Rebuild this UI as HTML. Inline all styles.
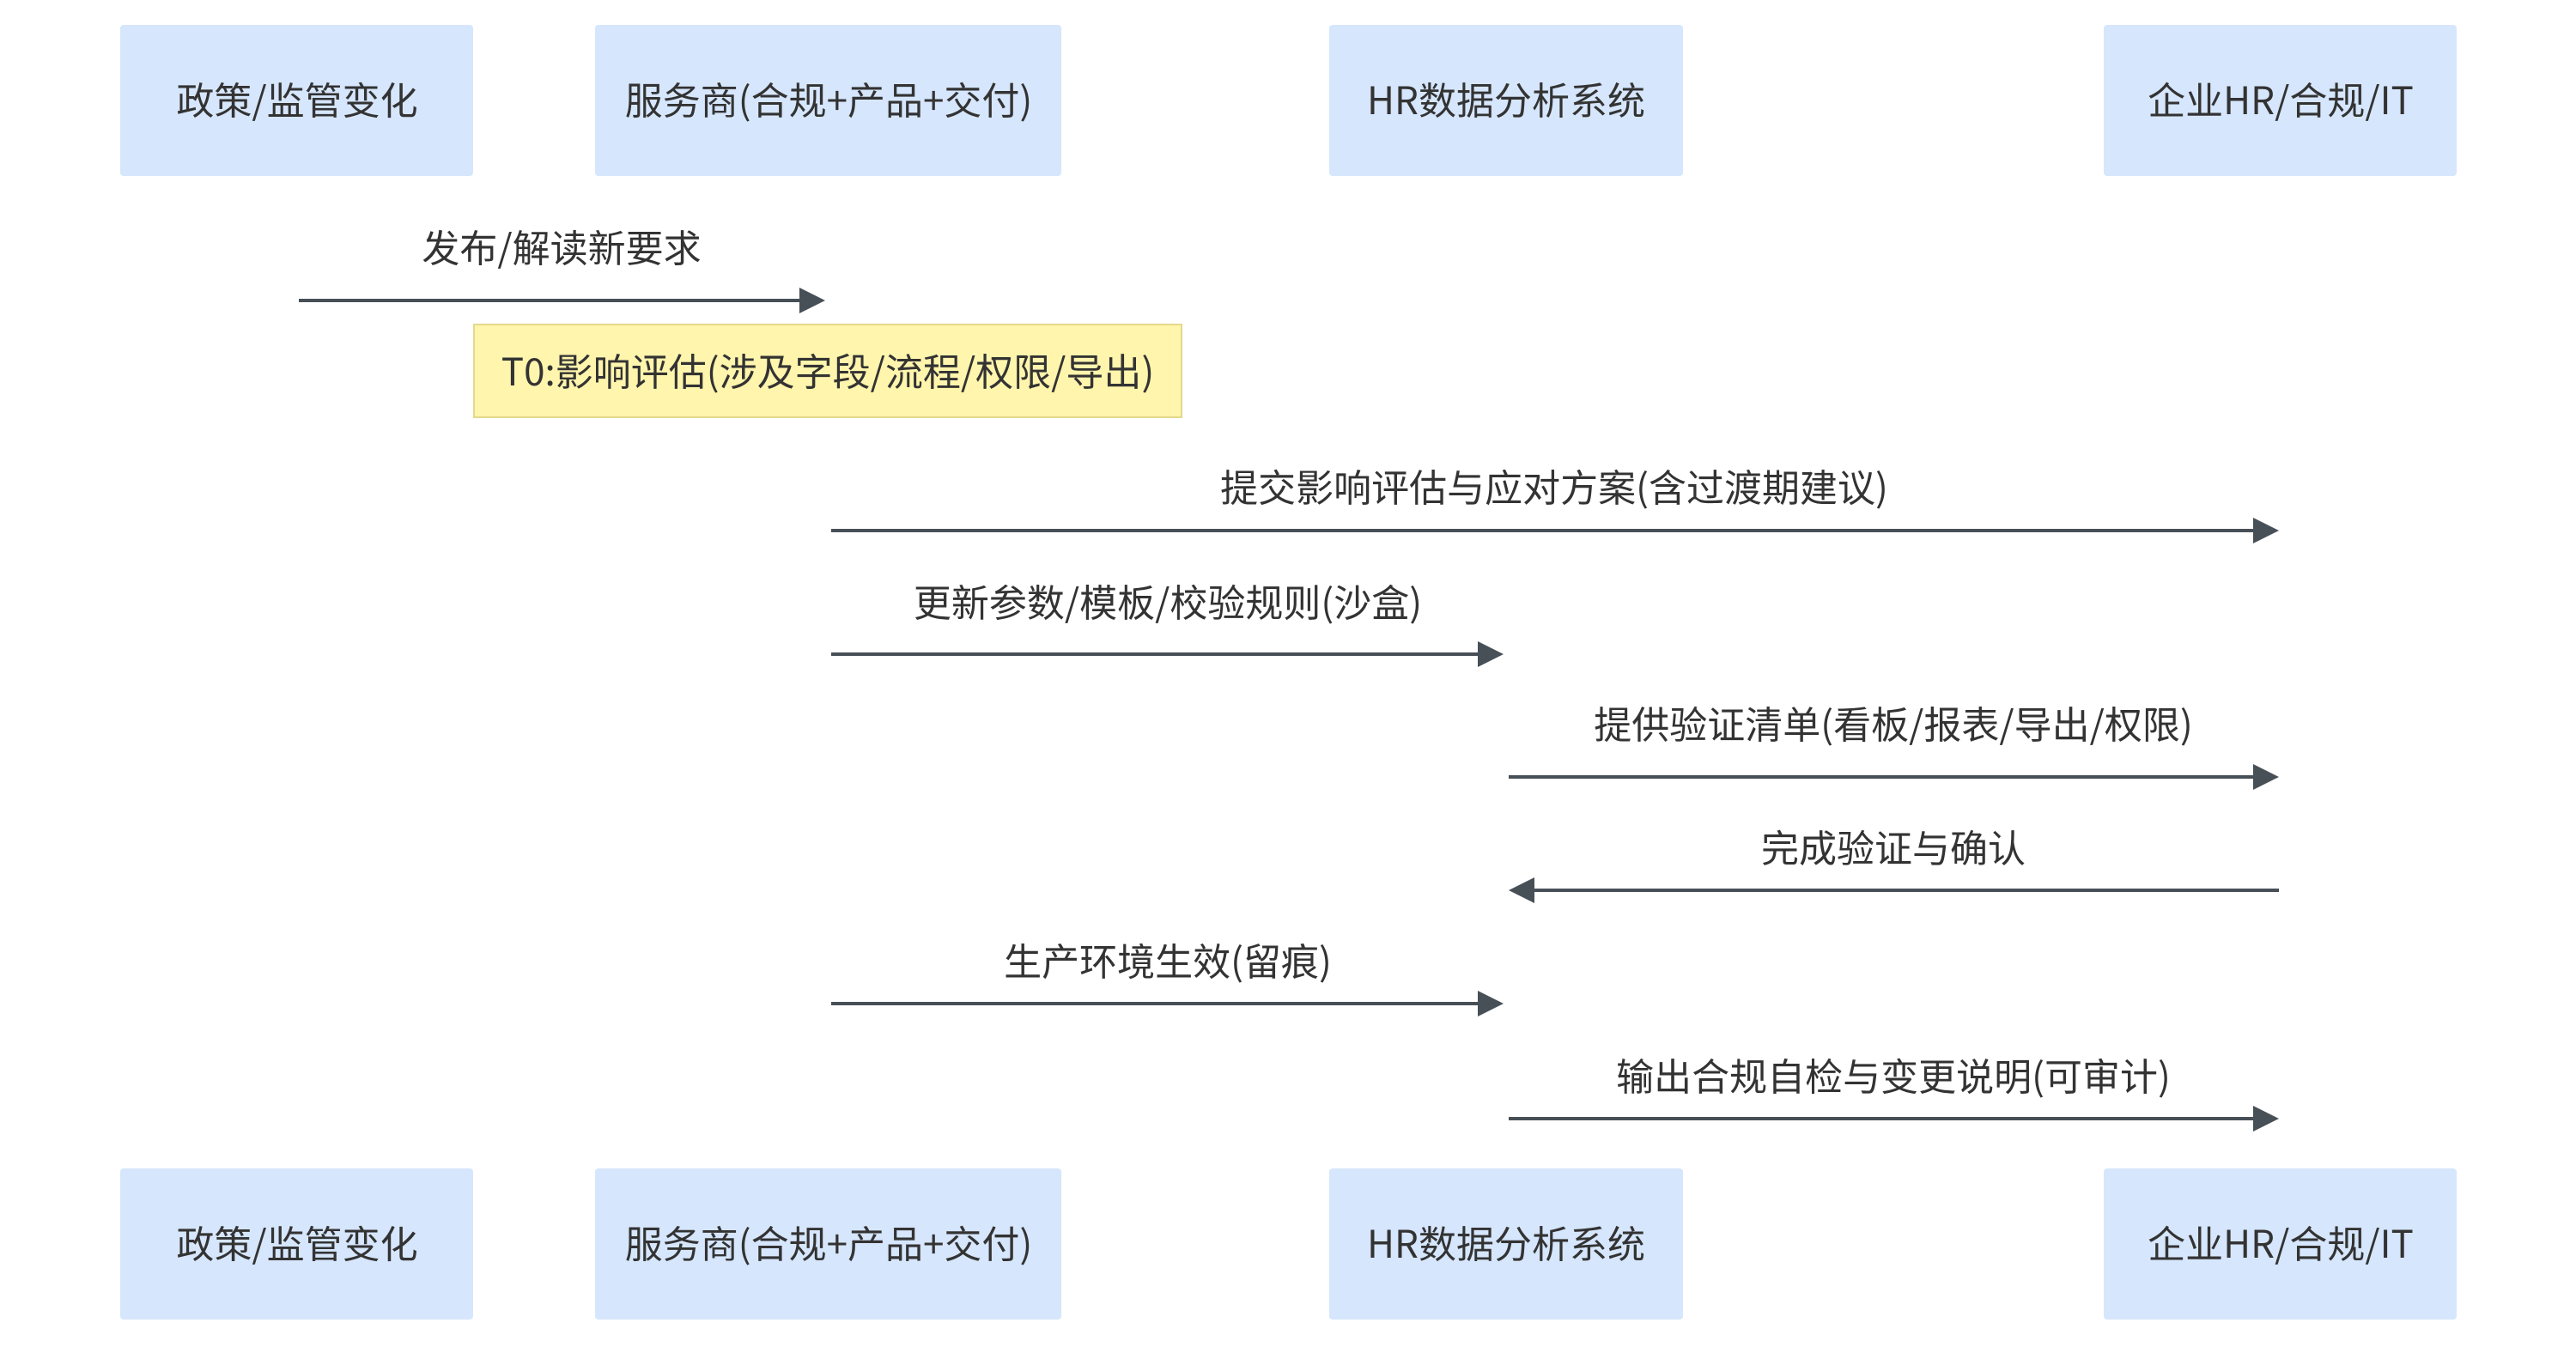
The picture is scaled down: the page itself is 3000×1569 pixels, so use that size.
<!DOCTYPE html>
<html><head><meta charset="utf-8"><style>
html,body{margin:0;padding:0;background:#fff;}
svg{display:block;}
text{font-family:"Noto Sans CJK SC","Liberation Sans",sans-serif;fill:#333;font-size:44px;text-anchor:middle;dominant-baseline:central;}
</style></head><body>
<svg width="3000" height="1569" viewBox="0 0 3000 1569" xmlns="http://www.w3.org/2000/svg">
<g fill="#d6e6fc">
<rect x="140" y="29" width="411" height="176" rx="4"/>
<rect x="693" y="29" width="543" height="176" rx="4"/>
<rect x="1548" y="29" width="412" height="176" rx="4"/>
<rect x="2450" y="29" width="411" height="176" rx="4"/>
<rect x="140" y="1361" width="411" height="176" rx="4"/>
<rect x="693" y="1361" width="543" height="176" rx="4"/>
<rect x="1548" y="1361" width="412" height="176" rx="4"/>
<rect x="2450" y="1361" width="411" height="176" rx="4"/>
</g>
<text x="346" y="114">政策/监管变化</text>
<text x="965" y="114">服务商(合规+产品+交付)</text>
<text x="1754" y="114">HR数据分析系统</text>
<text x="2656" y="114">企业HR/合规/IT</text>
<text x="346" y="1446">政策/监管变化</text>
<text x="965" y="1446">服务商(合规+产品+交付)</text>
<text x="1754" y="1446">HR数据分析系统</text>
<text x="2656" y="1446">企业HR/合规/IT</text>

<rect x="552" y="378" width="824" height="108" fill="#fff5ad" stroke="#e3d98c" stroke-width="2"/>
<text x="964" y="430">T0:影响评估(涉及字段/流程/权限/导出)</text>

<g stroke="#474f57" stroke-width="4">
<line x1="348" y1="350" x2="935" y2="350"/>
<line x1="968" y1="618" x2="2630" y2="618"/>
<line x1="968" y1="762" x2="1727" y2="762"/>
<line x1="1757" y1="905" x2="2630" y2="905"/>
<line x1="1785" y1="1037" x2="2654" y2="1037"/>
<line x1="968" y1="1169" x2="1727" y2="1169"/>
<line x1="1757" y1="1303" x2="2630" y2="1303"/>
</g>
<g fill="#474f57">
<polygon points="931,335 961,350 931,365"/>
<polygon points="2624,603 2654,618 2624,633"/>
<polygon points="1721,747 1751,762 1721,777"/>
<polygon points="2624,890 2654,905 2624,920"/>
<polygon points="1787,1022 1757,1037 1787,1052"/>
<polygon points="1721,1154 1751,1169 1721,1184"/>
<polygon points="2624,1288 2654,1303 2624,1318"/>
</g>
<text x="654" y="286">发布/解读新要求</text>
<text x="1810" y="565">提交影响评估与应对方案(含过渡期建议)</text>
<text x="1360" y="699">更新参数/模板/校验规则(沙盒)</text>
<text x="2205" y="841">提供验证清单(看板/报表/导出/权限)</text>
<text x="2205" y="985">完成验证与确认</text>
<text x="1360" y="1117">生产环境生效(留痕)</text>
<text x="2205" y="1251">输出合规自检与变更说明(可审计)</text>
</svg>
</body></html>
